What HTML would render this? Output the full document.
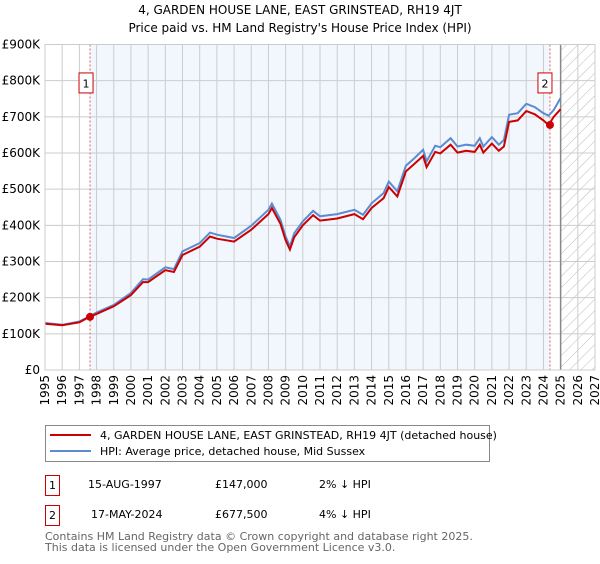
<!DOCTYPE html>
<html><head><meta charset="utf-8"><style>
body{margin:0;background:#fff;width:600px;height:560px;overflow:hidden;font-family:"DejaVu Sans","Liberation Sans",sans-serif;}
svg text{font-family:"DejaVu Sans","Liberation Sans",sans-serif;}
</style></head><body>
<svg id="chart" width="600" height="560" xmlns="http://www.w3.org/2000/svg">
<defs><pattern id="hatch" width="8" height="8" patternUnits="userSpaceOnUse" patternTransform="rotate(45)"><line x1="0" y1="0" x2="0" y2="8" stroke="#bbb" stroke-width="1"/></pattern></defs>
<text x="300" y="14" text-anchor="middle" font-size="12">4, GARDEN HOUSE LANE, EAST GRINSTEAD, RH19 4JT</text>
<text x="300" y="32" text-anchor="middle" font-size="12">Price paid vs. HM Land Registry's House Price Index (HPI)</text>
<g id="plot"></g>
<g>
<rect x="45.5" y="425.5" width="444" height="36" fill="#fff" stroke="#888"/>
<line x1="50" y1="435" x2="91" y2="435" stroke="#cc0000" stroke-width="2"/>
<text x="100" y="439" font-size="11">4, GARDEN HOUSE LANE, EAST GRINSTEAD, RH19 4JT (detached house)</text>
<line x1="50" y1="451" x2="91" y2="451" stroke="#5b8bd0" stroke-width="2"/>
<text x="100" y="455" font-size="11">HPI: Average price, detached house, Mid Sussex</text>
</g>
<g font-size="11">
<rect x="45.5" y="475.5" width="14" height="20" fill="#fff" stroke="#cc0000"/>
<text x="52.5" y="489" text-anchor="middle">1</text>
<text x="88" y="488">15-AUG-1997</text><text x="215" y="488">£147,000</text><text x="319" y="488">2% ↓ HPI</text>
</g>
<g font-size="11">
<rect x="45.5" y="505.5" width="14" height="20" fill="#fff" stroke="#cc0000"/>
<text x="52.5" y="519" text-anchor="middle">2</text>
<text x="91" y="518">17-MAY-2024</text><text x="215" y="518">£677,500</text><text x="319" y="518">4% ↓ HPI</text>
</g>
<text x="45" y="540" font-size="11" fill="#666">Contains HM Land Registry data © Crown copyright and database right 2025.</text>
<text x="45" y="551" font-size="11" fill="#666">This data is licensed under the Open Government Licence v3.0.</text>
</svg>
<script>
const hpiYears=[1995,1996,1997,1997.6,1998,1999,2000,2000.7,2001,2002,2002.5,2003,2004,2004.6,2005,2006,2007,2008,2008.2,2008.7,2009,2009.25,2009.5,2010,2010.6,2011,2012,2013,2013.5,2014,2014.7,2015,2015.5,2016,2016.5,2017,2017.2,2017.7,2018,2018.6,2019,2019.5,2020,2020.3,2020.5,2021,2021.4,2021.7,2022,2022.5,2023,2023.5,2024,2024.3,2024.6,2025];
const hpiValues=[130,125,134,149,159,180,213,251,250,284,279,328,351,380,374,365,399,443,460,415,369,342,378,411,440,425,431,443,429,461,489,521,494,565,586,609,577,620,616,641,618,623,620,641,618,644,623,636,706,710,736,727,710,703,719,752];
const paidValues=[128,124,132,147,155,176,207,243,243,276,271,318,341,369,363,355,388,431,448,404,359,333,367,400,428,413,419,431,417,448,475,506,480,549,570,592,561,603,599,623,601,606,603,623,601,626,606,618,686,690,716,707,690,677.5,700,721];
const yTicks=[0,100,200,300,400,500,600,700,800,900];
const xTicks=[1995,1996,1997,1998,1999,2000,2001,2002,2003,2004,2005,2006,2007,2008,2009,2010,2011,2012,2013,2014,2015,2016,2017,2018,2019,2020,2021,2022,2023,2024,2025,2026,2027];
const sales=[[1997.62,147],[2024.38,677.5]];
const X=y=>45+(y-1995)*(550/32), Y=v=>370-v*(325.5/900);
const NS="http://www.w3.org/2000/svg", g=document.getElementById('plot');
function mk(t,a,p){const e=document.createElementNS(NS,t);for(const k in a)e.setAttribute(k,a[k]);(p||g).appendChild(e);return e;}
let e;
e=mk('rect',{x:X(sales[0][0]),y:Y(900),width:X(sales[1][0])-X(sales[0][0]),height:Y(0)-Y(900),fill:'#f2f6fd'});

e=mk('rect',{x:X(2025),y:Y(900),width:X(2027)-X(2025),height:Y(0)-Y(900),fill:'url(#hatch)'});

yTicks.forEach(v=>{e=mk('line',{x1:45,x2:595,y1:Y(v),y2:Y(v),stroke:'#ccc'});

e=mk('text',{x:40,y:Y(v)+4,'text-anchor':'end','font-size':'12'});e.textContent=v?'£'+v+'K':'£0';
});
xTicks.forEach(t=>{e=mk('line',{x1:X(t),x2:X(t),y1:Y(900),y2:Y(0),stroke:'#ccc'});

e=mk('text',{x:0,y:0,'text-anchor':'end','font-size':'12',transform:`translate(${X(t)+4},375) rotate(-90)`});e.textContent=t;
});
e=mk('line',{x1:X(2025),x2:X(2025),y1:Y(900),y2:Y(0),stroke:'#888','stroke-width':1.5});

sales.forEach((s,i)=>{e=mk('line',{x1:X(s[0]),x2:X(s[0]),y1:Y(900),y2:Y(0),stroke:'#e06060','stroke-dasharray':'2,2'});
});
const pts=(arr)=>hpiYears.map((yr,i)=>X(yr).toFixed(1)+','+Y(arr[i]).toFixed(1)).join(' ');
e=mk('polyline',{points:pts(hpiValues),fill:'none',stroke:'#5b8bd0','stroke-width':2});

e=mk('polyline',{points:pts(paidValues),fill:'none',stroke:'#cc0000','stroke-width':2});

sales.forEach((s,i)=>{e=mk('circle',{cx:X(s[0]),cy:Y(s[1]),r:4,fill:'#cc0000'});

const bx=X(s[0])-(i?12:11);
e=mk('rect',{x:bx,y:Y(820)-0.5,width:14,height:20,fill:'#fff',stroke:'#cc0000'});

e=mk('text',{x:bx+7,y:Y(820)+14,'text-anchor':'middle','font-size':'11'});e.textContent=String(i+1);
});
e=mk('rect',{x:45,y:Y(900),width:550,height:Y(0)-Y(900),fill:'none',stroke:'#ccc'});

</script>
</body></html>
